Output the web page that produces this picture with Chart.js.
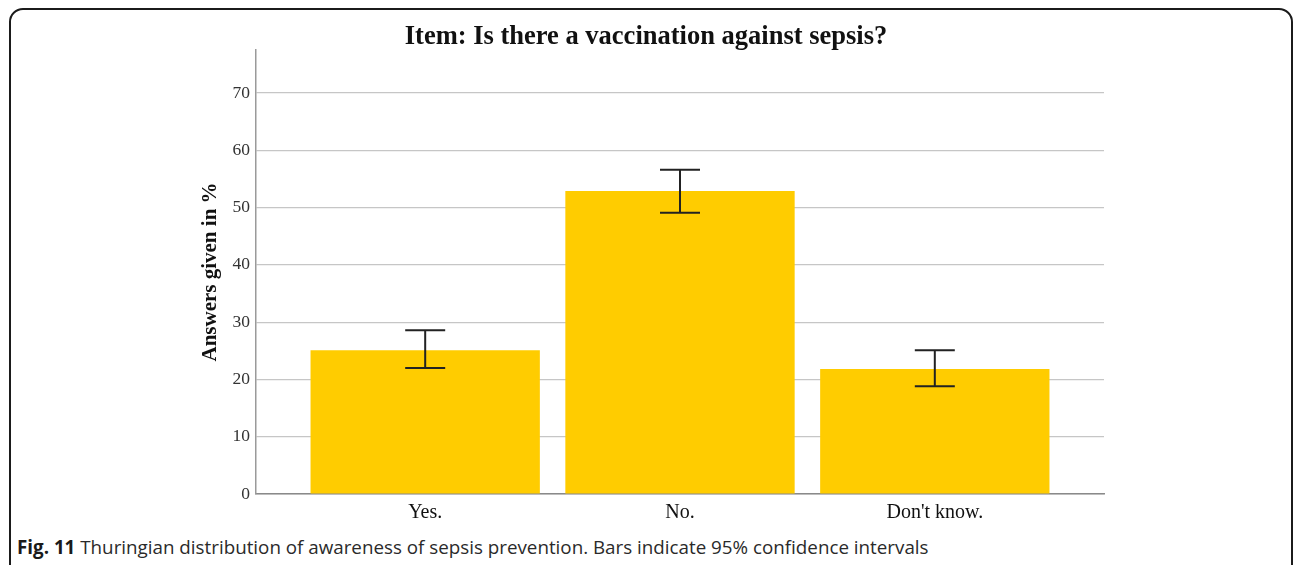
<!DOCTYPE html>
<html>
<head>
<meta charset="utf-8">
<script src="https://cdn.jsdelivr.net/npm/chart.js@4.4.1/dist/chart.umd.min.js"></script>
<style>
  html, body { margin: 0; padding: 0; background: #fff; }
  body { width: 1293px; height: 565px; position: relative; overflow: hidden; }
  .frame {
    position: absolute; left: 9px; top: 8px; width: 1284px; height: 640px;
    border: 2px solid #1b1b1b; border-radius: 14px; box-sizing: border-box;
  }
  #chart-wrap { position: absolute; left: 0; top: 0; width: 1293px; height: 530px; }
  .caption {
    position: absolute; left: 17px; top: 534px; white-space: nowrap;
    font-family: "Open Sans", sans-serif; font-size: 18.8px; color: #2a2a2a;
  }
  .caption b { font-weight: 700; color: #1a1a1a; }
</style>
</head>
<body>
<div class="frame"></div>
<div id="chart-wrap"><canvas id="sepsis-chart" width="1293" height="530"></canvas></div>
<div class="caption"><b>Fig. 11</b> Thuringian distribution of awareness of sepsis prevention. Bars indicate 95% confidence intervals</div>
<script>
const categories = ["Yes.", "No.", "Don't know."];
const percentages = [25.1, 52.9, 21.8];
const ciLower = [22.0, 49.1, 18.8];
const ciUpper = [28.6, 56.6, 25.1];

const serif = "'Liberation Serif', 'Times New Roman', serif";

// whiskers for the 95% confidence intervals
const errorBars = {
  id: "errorBars",
  afterDatasetsDraw(chart) {
    const { ctx, scales: { x, y } } = chart;
    ctx.save();
    ctx.strokeStyle = "#222";
    ctx.lineWidth = 2;
    categories.forEach((_, i) => {
      const px = x.getPixelForValue(i);
      const top = y.getPixelForValue(ciUpper[i]);
      const bottom = y.getPixelForValue(ciLower[i]);
      const half = 20;
      ctx.beginPath();
      ctx.moveTo(px, top); ctx.lineTo(px, bottom);
      ctx.moveTo(px - half, top); ctx.lineTo(px + half, top);
      ctx.moveTo(px - half, bottom); ctx.lineTo(px + half, bottom);
      ctx.stroke();
    });
    ctx.restore();
  }
};

new Chart(document.getElementById("sepsis-chart"), {
  type: "bar",
  data: {
    datasets: [{
      data: percentages.map((v, i) => ({ x: i, y: v })),
      backgroundColor: "#ffcc00",
      borderWidth: 0,
      barPercentage: 0.9,
      categoryPercentage: 1.0
    }]
  },
  options: {
    responsive: false,
    animation: false,
    layout: { padding: { left: 188, right: 189, top: 0, bottom: 0 } },
    plugins: {
      legend: { display: false },
      tooltip: { enabled: false },
      title: {
        display: true,
        text: "Item: Is there a vaccination against sepsis?",
        color: "#111",
        font: { family: serif, size: 26.5, weight: "bold", lineHeight: 0.98 },
        padding: { top: 24, bottom: 0 }
      }
    },
    scales: {
      x: {
        type: "linear",
        offset: false,
        min: -0.664,
        max: 2.664,
        grid: { display: false, drawTicks: false },
        border: { display: true, color: "#8a8a8a", width: 1.5 },
        ticks: {
          stepSize: 1,
          includeBounds: false,
          autoSkip: false,
          maxRotation: 0,
          padding: 7,
          color: "#111",
          font: { family: serif, size: 20 },
          callback: (v) => categories[v] ?? ""
        },
        afterFit: (scale) => { scale.height = 36; }
      },
      y: {
        min: 0,
        max: 77.5,
        grid: { color: "#c6c6c6", lineWidth: 1.2, drawTicks: false },
        border: { display: true, color: "#9a9a9a", width: 1.5 },
        ticks: {
          stepSize: 10,
          includeBounds: false,
          padding: 6,
          color: "#333",
          font: { family: serif, size: 17.5 }
        },
        title: {
          display: true,
          text: "Answers given in %",
          color: "#111",
          font: { family: serif, size: 21, weight: "bold" },
          padding: { top: 10, bottom: 0 }
        },
        afterFit: (scale) => { scale.width = 68; }
      }
    }
  },
  plugins: [errorBars]
});
</script>
</body>
</html>
